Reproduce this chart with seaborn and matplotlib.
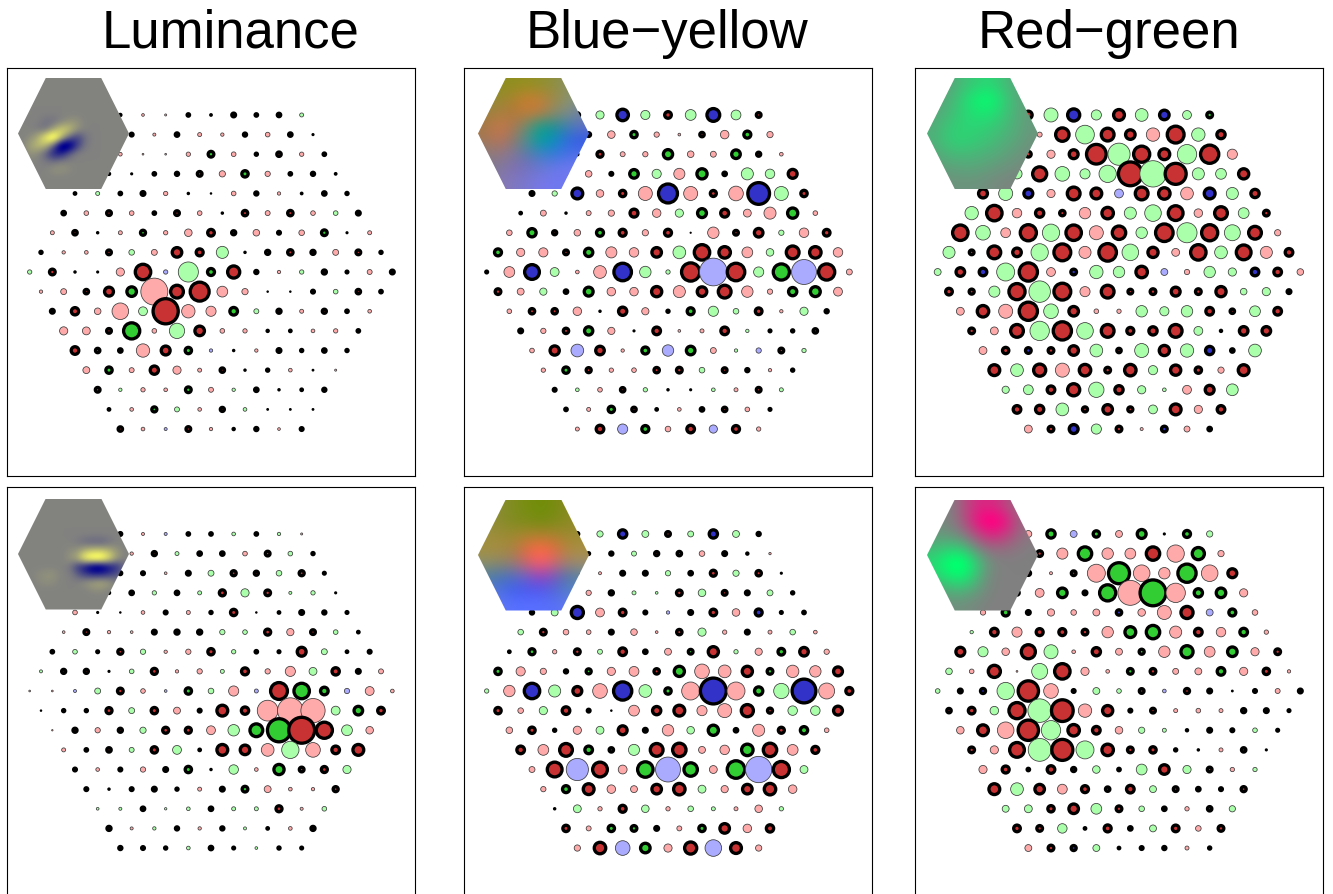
import numpy as np
import pandas as pd
import matplotlib
matplotlib.use("Agg")
import matplotlib.pyplot as plt
from matplotlib.colors import LinearSegmentedColormap
from matplotlib.patches import Polygon
import seaborn as sns

TITLES = ["Luminance", "Blue\u2212yellow", "Red\u2212green"]

# Each token: kind letter (upper = thick black ring, lower = thin ring; R/G/B channel) + magnitude
LUM_TOP = [
"R10 r7 r5 R14 R8 R18 R14 R17 g11",
"R10 R15 r8 R17 r11 r9 R16 r13 R17 R6",
"R8 r10 r4 r4 r12 G24 r13 R13 R20 r12 R14",
"R8 R10 R6 R14 R16 R21 r18 G26 r15 R14 R16 R8",
"R11 g11 R14 R18 r12 R7 R4 r13 R16 r9 R8 R17 R13",
"R17 r13 R21 r13 R14 R21 r13 R7 R23 r14 R23 r13 g13 R18",
"r11 R20 R7 r11 G22 r12 r22 R27 R19 r19 R15 r16 G24 R6 r11",
"R13 r9 r10 R21 g16 r17 R36 R28 g36 R7 R19 R23 R19 r17 R21 R13",
"g12 R24 R7 R6 r24 R54 b12 g60 G28 R44 R16 r9 g12 R19 R12 r14 R18",
"r9 r17 R20 R34 G36 r80 R46 R64 r32 r18 R4 R4 R15 g13 R20 R14",
"R18 R29 r19 r50 g26 R82 r40 r30 G30 g14 R19 r11 R19 R14 r10",
"r24 r23 R21 G56 r13 g46 R36 r13 r12 R10 R11 r10 r12 R14",
"R30 R20 R17 r40 R34 G26 b9 R7 r9 R18 R13 R17 R13",
"r20 G26 r14 R32 r24 r11 R20 R7 R13 r10 R5 r5",
"R21 g9 r12 r10 G24 r14 g9 R17 R7 R11 R16",
"R11 r10 G22 g14 r10 R19 g10 R5 R5 R5",
"R20 r10 b8 R21 r9 R10 R16 r7 R15",
]
BY_TOP = [
"R20 g24 B42 g27 R27 g32 B46 g29 R21",
"R12 R18 r22 G26 r15 r7 R20 r25 G28 r18",
"R10 R10 R25 r14 r15 G35 r19 r17 G33 R19 r10",
"R10 R10 r19 R15 G33 g27 r33 G38 R17 g36 g28 R34",
"R18 g15 B40 r22 R26 r42 B64 r42 R25 r44 B72 g42 R26",
"R11 r17 R7 r14 r18 R31 r25 g24 G34 R31 r23 r36 G38 r13",
"r16 G32 R19 r19 G28 R28 r18 R28 R3 r34 R21 R33 g15 r28 R27",
"G28 r24 r27 R21 G32 r33 r28 R36 g38 R54 R42 r32 g22 R46 R42 r28",
"R12 r32 B52 g26 r10 r38 B60 g34 g12 R62 b82 R60 g30 G56 b74 R56 r17",
"R24 r20 g21 R17 G34 r25 r25 R38 r36 R36 R46 r34 r15 G32 G37 r26",
"r13 R23 R23 r25 R7 R32 r21 R13 G28 g30 g16 R27 r9 g24 R16",
"R18 r15 R23 G32 r21 R6 R30 r7 r11 R30 g9 R12 R13 R20",
"r13 R35 b38 R33 r9 G28 b34 G33 r17 g9 b15 R21 g12",
"r12 G26 R22 r12 r13 R23 R24 g16 R21 R16 r9 R13",
"R15 g10 r13 R20 g12 R7 R6 g10 r11 R21 g11",
"R14 r11 G26 R20 R11 r10 R17 R20 r13 R12",
"r11 R30 b30 G28 r16 R30 b24 R28 r12",
]
RG_TOP = [
"R30 g42 B44 g30 R40 g38 B36 g26 G24",
"R20 r14 R48 g56 R46 R36 r40 R58 g40 R32",
"R20 R24 r24 R34 R66 g66 R56 R40 g58 R62 r30",
"R20 g30 R50 g44 g30 g52 R78 g78 R70 g36 g32 R38",
"R34 g42 B34 r24 R46 R40 b26 R46 R42 r38 B40 g36 R32",
"g40 R54 r28 R32 R23 r34 R42 g36 g50 R52 r25 R46 g32 R24",
"R54 g44 r29 R56 g52 R54 r42 R48 g34 R60 g60 R56 g48 R46 r18",
"g36 R21 R46 R33 g52 R58 r36 R60 g50 R38 r23 R54 g38 R52 r36 R30",
"g20 R33 B30 g54 R62 r26 B24 g40 g34 R42 b20 r15 g34 g24 B30 R30 r19",
"R27 R22 g33 R56 g64 R58 r30 R46 R21 R24 R34 R24 R38 g19 g24 R18",
"r23 R42 r42 R62 g44 R36 r13 r12 g34 g27 g34 R30 R20 g32 R30",
"R24 r23 R46 g58 R62 g50 R46 R28 R32 R46 g26 R10 R33 R33",
"r23 R26 B24 R24 R36 g38 R20 g42 R38 g40 B32 R17 g38",
"R40 g38 R44 r42 R42 R24 R42 g27 R38 R26 r18 R40",
"g21 g29 R30 R44 g46 R32 g24 g10 r26 R34 g35",
"R30 R32 g38 R22 R36 R22 g26 R40 r24 R30",
"r23 R24 B34 g30 R24 r8 B24 r17 R17",
]
LUM_BOT = [
"R15 r8 b8 R14 R14 g10 R14 g9 r5",
"R10 r9 R19 g11 R17 R17 r13 R21 g13 R13",
"R8 R15 R15 r7 R18 g17 R22 R19 g16 R22 R12",
"R8 R10 R17 g12 R17 g11 R25 g24 R24 g8 g12 R6",
"r13 R6 R4 r10 R15 r11 R13 R26 R4 R11 R18 R16 R12",
"r7 R21 r9 r7 R18 R19 R19 g15 g13 R25 r21 R21 g13 R11",
"R14 g13 R12 R22 g15 r9 r15 R26 g12 R14 R12 R34 g17 R11 R15",
"g8 R19 R19 R6 g13 R25 r9 r15 g11 R28 r15 r30 g23 R29 R18 r14",
"r4 r4 b8 g17 R24 r13 b7 G26 g16 r30 b11 R58 G54 G30 b15 r26 r10",
"R4 R13 R13 R25 g17 R26 r20 R15 R40 R29 r62 r76 r72 g26 G33 R27",
"r3 R19 r15 R19 g18 R25 R25 r26 g34 G46 G76 R84 R56 g32 r22",
"r11 R14 R20 g14 R26 g26 R11 R40 R36 r38 g52 r44 R30 R40",
"R15 r10 R15 r15 R18 G26 R7 g28 r10 G38 R21 R25 g24",
"R15 R7 R15 R18 R13 r11 R18 G24 r20 r10 r9 R22",
"g7 g8 R17 g6 g10 R17 g11 g11 R25 r8 g13",
"R19 r8 g9 R16 r9 R16 g8 R11 r10 R19",
"R16 R15 R13 g10 R17 R12 g7 R13 R12",
]
BY_BOT = [
"R15 g18 B32 g20 R21 g17 B32 g20 R16",
"R10 R12 R16 g14 R19 R20 r16 R18 R10 r6",
"R10 R10 r8 R18 R18 g15 R17 R25 g18 R23 R6",
"R10 R12 r15 R19 g11 g7 R24 g22 R21 R18 g17 R13",
"R16 g20 B44 r26 R27 R15 b9 R18 R27 r22 B28 R12 R14",
"g16 R24 r16 r13 R18 r19 r7 R23 g24 r12 R18 r11 g16 r10",
"R11 G25 r12 R24 g14 R30 R17 r20 G21 R38 g12 r21 G27 R33 r15",
"G26 r27 r18 R16 G22 r24 r29 R23 G38 r44 r38 R38 G24 r37 r34 R34",
"g12 r34 B54 g36 R34 r44 B62 g38 G26 r54 B84 r54 G32 g46 B78 r48 R28",
"R26 r16 g24 R30 R15 R4 r32 R32 R40 r30 r42 R44 R22 g28 g28 R34",
"r19 R26 R13 r24 g23 R34 R18 r34 g22 G38 R17 r36 R25 G29 r13",
"R30 r32 R46 G30 R20 g33 R46 R48 r20 r28 G42 R48 r32 R28",
"r17 R52 b66 R52 r26 G54 b74 G48 r23 G60 b78 R56 g23",
"r15 G28 R40 r25 r20 R36 R42 g23 r21 R36 R42 r25",
"R7 g23 r12 R28 g22 r12 g16 g11 r11 r22 g12",
"R26 r14 G26 G24 R18 r14 G26 R36 r25 R29",
"r18 R42 b44 G36 r24 R44 b50 R40 r18",
]
RG_BOT = [
"r20 G32 b20 G26 r20 G34 R6 G28 g18",
"R10 R24 r33 G48 r34 r32 R48 r52 G44 r18",
"R10 R20 r8 R21 r54 G70 r50 r34 G62 r50 R34",
"R10 R20 r26 G36 R18 G56 r74 G84 r58 G32 G36 r24",
"r15 G28 R18 r21 r16 r20 B23 r22 r42 R44 b20 G28 r16",
"g9 R30 r30 R28 R28 R24 r34 G40 G48 r36 R30 r28 G30 r12",
"R34 g30 r22 R50 g42 r10 R32 r20 G22 r34 G44 r32 G36 r24 R24",
"g19 r13 R44 r4 g48 R54 r24 r10 G24 R24 r17 r20 G30 r24 R26 r9",
"g13 R18 B22 g52 R68 r44 R15 g20 g13 R21 b10 R22 R18 R5 R15 r14 R18",
"R20 R27 g25 R56 g70 R72 r40 R38 R15 R21 r11 r13 r11 R19 R18 R12",
"r22 R40 r50 R68 g58 R42 R30 r22 g18 g11 R10 R18 R15 g13 R12",
"R24 r24 R52 g68 R70 g54 R42 R24 R26 R13 R7 r11 R20 R6",
"r24 R28 R14 R30 R19 g22 R14 g32 R36 g24 R21 r12 g12",
"R40 g38 R36 r29 R28 R20 R30 g20 R21 R17 R15 R22",
"g20 g23 R26 R36 g32 R24 g16 R17 r12 R20 g18",
"R27 R24 g28 R11 R28 R17 g20 R27 r16 R24",
"r20 R24 B22 g20 R11 R15 R16 r11 R13",
]

# Receptive-field insets (coarse samples, smoothed when drawn)
LUM_TOP_RF = [[0]*14, [0]*14, [0]*14, [0]*14,
 [0,0,0,0,0,0,0,0,0,0,0,0,0,0],
 [0,0,0,-1,-1,0,1,1,0,0,0,0,0,0],
 [0,0,-.5,-1,2,5,4,1,0,0,0,0,0,0],
 [0,.5,2.5,7,11,4,-2,-4,-1,0,0,0,0,0],
 [0,2,3.5,3.5,-2,-11,-10,-4,-.5,0,0,0,0,0],
 [0,1,.5,-2,-6,-6,-2,0,0,0,0,0,0,0],
 [0,0,0,-.5,-1,0,0,0,0,0,0,0,0,0],
 [0,0,0,0,1,1,.5,0,0,0,0,0,0,0],
 [0]*14, [0]*14]
LUM_BOT_RF = [[0]*14, [0]*14, [0]*14, [0]*14, [0]*14,
 [0,0,0,0,0,0,0,-.5,-1.5,-2,-2,-1,0,0],
 [0,0,0,0,0,0,.5,1,3,4,4,3,1,0],
 [0,0,0,0,0,0,1,2.5,8,10,10,6,1.5,0],
 [0,0,0,0,0,0,-.5,-4,-7,-10,-10,-7,-5,-1],
 [0,0,.5,1,1,0,0,-2,-4,-5,-5,-4,-3,0],
 [0,0,.3,.7,.5,0,0,0,1,2,2.5,1.5,0,0],
 [0,0,0,0,0,0,0,0,0,.5,.5,0,0,0],
 [0]*14, [0]*14]
RG_TOP_RF = [
 [.2,.28,.45,.6,.68,.5,.3,.15],
 [.25,.35,.6,.9,1.0,.65,.35,.18],
 [.3,.42,.62,.78,.8,.58,.35,.2],
 [.35,.55,.65,.65,.6,.48,.32,.2],
 [.38,.58,.65,.58,.5,.38,.28,.15],
 [.28,.42,.45,.42,.36,.28,.18,.1],
 [.18,.24,.28,.28,.22,.15,.1,.05],
 [.1,.15,.15,.15,.1,.05,.03,.03]]
RG_BOT_RF = [
 [0,.05,-.25,-.55,-.6,-.45,-.15,0],
 [.05,.03,-.2,-.7,-1,-.8,-.3,-.05],
 [.15,.15,0,-.3,-.6,-.5,-.2,-.05],
 [.4,.5,.5,.1,-.12,-.12,-.05,0],
 [.6,.9,1,.55,.1,0,0,0],
 [.5,.7,.8,.45,.05,0,0,0],
 [.2,.3,.35,.2,.03,0,0,0],
 [.1,.1,.1,.05,0,0,0,0]]
BY_TOP_RF = [
 "8a8a30 8f8f20 8f8f20 959020 90902c 8f9040 8a9060 8a9070",
 "8f8a40 958a30 a88430 c87c30 c08038 9c8a48 8a9568 80908a",
 "9a8040 a88040 b0783a c47c36 bd7c40 8c8a6a 7c8c8a 7080a0",
 "a87848 c87848 b07850 708a70 10a090 20908f 4080b0 6070c8",
 "a07858 b87458 90786c 4c9090 00a09c 0890c0 3068e0 3058e8",
 "887c80 907880 80789a 6078a8 4080c8 3878d8 4870e8 5270e8",
 "80788c 807a9c 8070b0 7470c0 6a78d0 6878e8 7078f0 7078f0",
 "80788c 8878b0 8078c0 7878d0 7878e8 7078f0 7078f0 7078f0"]
BY_BOT_RF = [
 "908c40 888c30 808c20 788e10 708e08 788c10 888a20 908a30",
 "908c40 8c8c30 808c20 7c8c18 748c10 7c8c18 8c8a20 948a30",
 "9c9040 9c8c38 9c8a30 a88630 ac8230 a88430 9c8a30 9c8c38",
 "a49040 a88c40 a88440 e06c40 ff6a40 e06c3e b08a3c aa9040",
 "909068 8c8868 987c70 d06468 ff5c68 d06870 a0846c a08c6c",
 "5080a0 4878b0 5070c0 7060c8 9840c0 7858c0 5078a8 6088a0",
 "6080c0 4c70e0 4060f0 4858f0 5058f0 5068d8 5080c8 6088c0",
 "7078e0 6078f0 5870ff 5870ff 5870ff 5870f8 6078f0 7080e0"]

PALETTE = {"R": "#C83232", "G": "#32CD32", "B": "#3232C8",
           "r": "#FFAAAA", "g": "#AAFFAA", "b": "#AAAAFF"}
W, H = 1333, 895
PT = 0.25      # points per magnitude unit
RING = 9.5     # thick ring width, magnitude units
THIN = 2.2     # thin ring width, magnitude units


def frame(rows):
    recs = []
    for i, row in enumerate(rows):
        toks = row.split()
        off = i - 8
        assert len(toks) == 17 - abs(off), (i, len(toks))
        for j, t in enumerate(toks):
            kind, d = t[0], float(t[1:])
            d = d + max(0.0, 3.5 * (1 - d / 50))
            lw = min(RING, d / 2) if kind.isupper() else THIN
            recs.append((j - (len(toks) - 1) / 2, -off * np.sqrt(3) / 2, kind,
                         (max(d - lw, 0.5) * PT) ** 2, lw * PT, kind.isupper()))
    return pd.DataFrame(recs, columns=["x", "y", "kind", "area", "lw", "thick"])


def rgb_grid(rows):
    return np.array([[[int(c[k:k + 2], 16) for k in (0, 2, 4)] for c in r.split()]
                     for r in rows], dtype=np.uint8)


sns.set_style("white")
plt.rcParams["font.family"] = ["Liberation Sans", "DejaVu Sans"]

cm_by = LinearSegmentedColormap.from_list("lum", ["#000090", "#828280", "#FFFF60"])
cm_rg = LinearSegmentedColormap.from_list("rg", ["#FF0082", "#808080", "#00FF6E"])

panels = [
    (7, 69, LUM_TOP, LUM_TOP_RF, 11, 10),
    (464, 69, BY_TOP, BY_TOP_RF, 14, 10),
    (915, 69, RG_TOP, RG_TOP_RF, 12, 10),
    (7, 488, LUM_BOT, LUM_BOT_RF, 11, 11.5),
    (464, 488, BY_BOT, BY_BOT_RF, 14, 12.5),
    (915, 488, RG_BOT, RG_BOT_RF, 12, 12.5),
]
SIDE = 408
UNIT = SIDE / 18

fig = plt.figure(figsize=(W / 100, H / 100), dpi=100)
for n, (l, t, rows, rf, il, it) in enumerate(panels):
    ax = fig.add_axes([l / W, 1 - (t + SIDE) / H, SIDE / W, SIDE / H])
    df = frame(rows)
    sns.scatterplot(data=df, x="x", y="y", hue="kind", palette=PALETTE,
                    size="area", sizes=(0, 3000), size_norm=(0, 3000),
                    linewidth=df["lw"].to_numpy(),
                    edgecolor=["black" if b else "#3a3a3a" for b in df["thick"]],
                    legend=False, ax=ax, clip_on=True, zorder=2)
    ax.set_xlim(-9, 9)
    ax.set_ylim(-9, 9)
    ax.set_xticks([])
    ax.set_yticks([])
    ax.set_xlabel("")
    ax.set_ylabel("")
    for s in ax.spines.values():
        s.set_visible(True)
        s.set_color("black")
        s.set_linewidth(0.8)

    x0 = (il - SIDE / 2) / UNIT
    y1 = (SIDE / 2 - it) / UNIT
    sz = 111 / UNIT
    ext = (x0, x0 + sz, y1 - sz, y1)
    if n in (1, 4):
        im = ax.imshow(rgb_grid(rf), extent=ext, aspect="auto",
                       interpolation="bicubic", zorder=5)
    elif n in (0, 3):
        im = ax.imshow(np.array(rf) / 10, extent=ext, aspect="auto", cmap=cm_by,
                       vmin=-.75, vmax=.75, interpolation="bicubic", zorder=5)
    else:
        lim = 1.0 if n == 2 else .85
        im = ax.imshow(np.array(rf), extent=ext, aspect="auto", cmap=cm_rg,
                       vmin=-lim, vmax=lim, interpolation="bicubic", zorder=5)
    cut = sz * 0.25
    hexa = Polygon([(x0, y1 - sz / 2), (x0 + cut, y1), (x0 + sz - cut, y1),
                    (x0 + sz, y1 - sz / 2), (x0 + sz - cut, y1 - sz),
                    (x0 + cut, y1 - sz)], closed=True, transform=ax.transData)
    im.set_clip_path(hexa)
    ax.set_xlim(-9, 9)
    ax.set_ylim(-9, 9)

for txt, cx in zip(TITLES, (230.5, 667.5, 1109)):
    fig.text(cx / W, 1 - 48 / H, txt, ha="center", va="baseline",
             fontsize=38, color="black")

fig.savefig("out.png", dpi=100)
